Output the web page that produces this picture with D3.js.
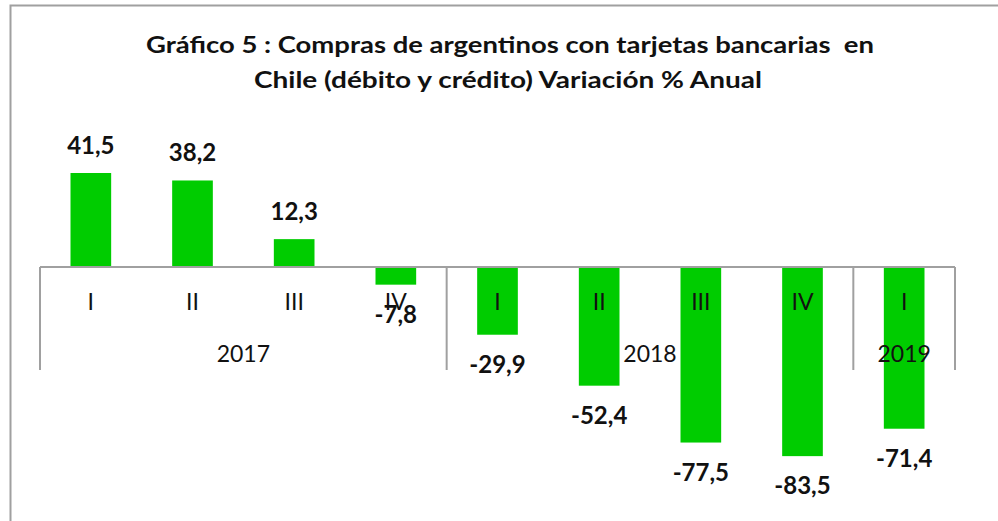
<!DOCTYPE html>
<html><head><meta charset="utf-8">
<script src="https://cdn.jsdelivr.net/npm/d3@7"></script>
<style>
html,body{margin:0;padding:0;background:#fff;}
svg{display:block;}
text{white-space:pre;}
</style></head>
<body>
<script>
const quarters = ["I","II","III","IV","I","II","III","IV","I"];
const years = ["2017","2018","2019"];
const yearSpans = [[0,3],[4,7],[8,8]];
const values = [41.5,38.2,12.3,-7.8,-29.9,-52.4,-77.5,-83.5,-71.4];
const valueLabels = ["41,5","38,2","12,3","-7,8","-29,9","-52,4","-77,5","-83,5","-71,4"];
const titleLines = ["Gráfico 5 : Compras de argentinos con tarjetas bancarias  en","Chile (débito y crédito) Variación % Anual"];
const titleLengths = [728, 508];

const W = 998, H = 521;
const font = "Lato, 'Open Sans', sans-serif";
const svg = d3.select("body").append("svg").attr("width", W).attr("height", H);

// chart border (top & left)
svg.append("path").attr("d", `M10.5,${H} L10.5,5.5 L${W},5.5`)
  .attr("fill","none").attr("stroke","#a0a0a0").attr("stroke-width",2);

// title
svg.append("g").selectAll("text").data(titleLines).join("text")
  .attr("text-anchor","middle").attr("font-family",font)
  .attr("font-weight","bold").attr("font-size",23).attr("fill","#111")
  .attr("x",(d,i)=>i===0?510:508).attr("y",(d,i)=>53+i*35)
  .attr("textLength",(d,i)=>titleLengths[i]).attr("lengthAdjust","spacingAndGlyphs")
  .text(d=>d);

const x = d3.scaleBand().domain(d3.range(values.length)).range([40,955])
  .paddingInner(0.6).paddingOuter(0.3);
const y = d3.scaleLinear().domain([-90,50]).range([470.85,153.75]);
const y0 = y(0);

// bars
svg.append("g").selectAll("rect").data(values).join("rect")
  .attr("x",(d,i)=>x(i)).attr("width",x.bandwidth())
  .attr("y",d=>Math.min(y(d),y0)).attr("height",d=>Math.abs(y(d)-y0))
  .attr("fill","#00cc00");

// axis (quarters)
const axis = d3.axisBottom(x).tickSize(0).tickFormat(i=>quarters[i]);
const ag = svg.append("g").attr("transform",`translate(0,${y0})`).call(axis);
ag.select(".domain").remove();
ag.selectAll("text").attr("font-family",font).attr("font-size",23)
  .attr("fill","#111").attr("dy",null).attr("y",43);

svg.append("line").attr("x1",40).attr("x2",955).attr("y1",y0).attr("y2",y0)
  .attr("stroke","#a0a0a0").attr("stroke-width",2);

// group separators
const step = x.step();
const edgeLeft = x.range()[0], edgeRight = x.range()[1];
const sepX = [edgeLeft];
yearSpans.forEach(s=>{ sepX.push(s[1]===values.length-1 ? edgeRight : x(s[1]) + x.bandwidth() + x.paddingInner()*step/2); });
svg.append("g").selectAll("line").data(sepX).join("line")
  .attr("x1",d=>d).attr("x2",d=>d).attr("y1",y0).attr("y2",370)
  .attr("stroke","#a0a0a0").attr("stroke-width",2);

// year labels
svg.append("g").selectAll("text").data(years).join("text")
  .attr("x",(d,i)=>(sepX[i]+sepX[i+1])/2).attr("y",362)
  .attr("text-anchor","middle").attr("font-family",font).attr("font-size",23)
  .attr("fill","#111").text(d=>d);

// value labels
svg.append("g").selectAll("text").data(values).join("text")
  .attr("x",(d,i)=>x(i)+x.bandwidth()/2)
  .attr("y",d=>d>=0 ? y(d)-19 : y(d)+38)
  .attr("text-anchor","middle").attr("font-family",font).attr("font-weight","bold")
  .attr("font-size",24).attr("fill","#111").text((d,i)=>valueLabels[i]);
</script>
</body></html>
